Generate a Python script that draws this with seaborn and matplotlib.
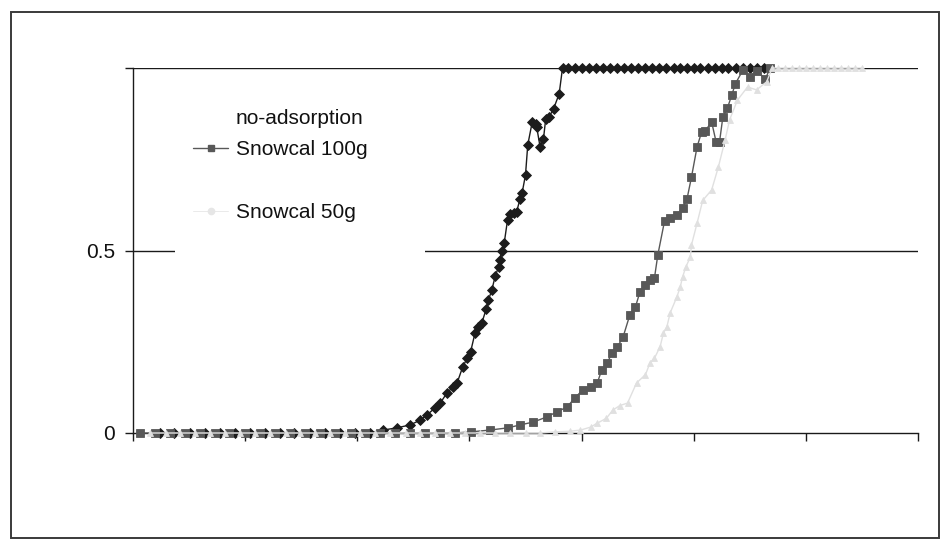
import matplotlib
matplotlib.use("Agg")
import matplotlib.pyplot as plt
from matplotlib.lines import Line2D
from matplotlib.patches import Rectangle
import pandas as pd
import seaborn as sns

# ---- data -----------------------------------------------------------------
series_names = ["no-adsorption", "Snowcal 100g", "Snowcal 50g"]

x_none = [2.4, 3.7, 5.1, 6.4, 7.8, 9.1, 10.4, 11.8, 13.1, 14.4, 15.8, 17.1, 18.5, 19.8, 21.1,
          22.3, 23.5, 24.7, 25.6, 26.2, 26.9, 27.4, 28.0, 28.5, 28.9, 29.4, 29.8, 30.1, 30.5,
          30.8, 31.1, 31.5, 31.7, 32.0, 32.3, 32.6, 32.7, 32.9, 33.1, 33.4, 33.6, 34.0, 34.2,
          34.5, 34.7, 35.0, 35.2, 35.6, 35.9, 36.0, 36.3, 36.6, 36.8, 37.1, 37.5, 38.0, 38.3,
          38.8, 39.4, 40.0, 40.7, 41.3, 41.9, 42.5, 43.2, 43.8, 44.4, 45.0, 45.7, 46.3, 46.9,
          47.5, 48.2, 48.8, 49.4, 50.0, 50.6, 51.3, 51.9, 52.5, 53.1, 53.8, 54.4, 55.0, 55.6, 56.3]
y_none = [0, 0, 0, 0, 0, 0, 0, 0, 0, 0, 0, 0, 0, 0, 0,
          0.008, 0.014, 0.022, 0.035, 0.049, 0.068, 0.082, 0.110, 0.125, 0.137, 0.181, 0.205,
          0.222, 0.274, 0.290, 0.301, 0.340, 0.365, 0.392, 0.430, 0.455, 0.474, 0.500, 0.520,
          0.584, 0.600, 0.603, 0.605, 0.640, 0.658, 0.707, 0.789, 0.852, 0.847, 0.838, 0.784,
          0.805, 0.860, 0.866, 0.888, 0.929, 1.0,
          1, 1, 1, 1, 1, 1, 1, 1, 1, 1, 1, 1, 1, 1, 1, 1, 1, 1, 1, 1, 1, 1, 1, 1, 1, 1, 1, 1, 1]

x_100 = [0.6, 2.0, 3.3, 4.6, 6.0, 7.3, 8.6, 10.0, 11.3, 12.7, 14.0, 15.3, 16.7, 18.0, 19.4,
         20.7, 22.0, 23.4, 24.7, 26.0, 27.4, 28.7,
         30.1, 31.8, 33.4, 34.5, 35.7, 36.9, 37.8, 38.7, 39.4, 40.1, 40.8, 41.4, 41.8, 42.3,
         42.7, 43.2, 43.7, 44.3, 44.8, 45.2, 45.7, 46.1, 46.5, 46.8, 47.4, 47.9, 48.5, 49.0,
         49.4, 49.8, 50.3, 50.7, 51.0, 51.6, 52.0, 52.3, 52.6, 53.0, 53.4, 53.7, 54.4, 55.0,
         55.6, 56.4, 56.8]
y_100 = [0, 0, 0, 0, 0, 0, 0, 0, 0, 0, 0, 0, 0, 0, 0, 0, 0, 0, 0, 0, 0, 0,
         0.003, 0.008, 0.014, 0.022, 0.030, 0.044, 0.058, 0.071, 0.096, 0.118, 0.126, 0.137,
         0.173, 0.192, 0.219, 0.236, 0.263, 0.323, 0.345, 0.386, 0.405, 0.419, 0.425, 0.488,
         0.581, 0.589, 0.597, 0.616, 0.641, 0.701, 0.784, 0.824, 0.827, 0.852, 0.797, 0.797,
         0.866, 0.890, 0.926, 0.956, 0.995, 0.975, 0.992, 0.970, 1.0]

x_50 = [1.5, 2.9, 4.2, 5.5, 6.9, 8.2, 9.5, 10.9, 12.2, 13.6, 14.9, 16.2, 17.6, 18.9, 20.2,
        21.6, 22.9, 24.3, 25.6, 26.9, 28.3, 29.6, 30.9, 32.3, 33.6, 35.0, 36.3,
        37.6, 39.0, 39.9, 40.8, 41.4, 42.2, 42.8, 43.4, 44.1, 44.9, 45.7, 46.1, 46.5, 47.0,
        47.3, 47.6, 47.9, 48.5, 48.8, 49.0, 49.3, 49.7, 49.8, 50.3, 50.8, 51.6, 52.2, 52.8,
        53.2, 53.9, 54.8, 55.6, 56.5, 57.0,
        57.5, 58.1, 58.8, 59.4, 60.0, 60.6, 61.3, 61.9, 62.5, 63.1, 63.8, 64.4, 65.0]
y_50 = [0, 0, 0, 0, 0, 0, 0, 0, 0, 0, 0, 0, 0, 0, 0, 0, 0, 0, 0, 0, 0, 0, 0, 0, 0, 0, 0,
        0.003, 0.005, 0.008, 0.016, 0.027, 0.040, 0.063, 0.075, 0.082, 0.137, 0.160, 0.192,
        0.205, 0.236, 0.274, 0.290, 0.329, 0.373, 0.400, 0.427, 0.455, 0.482, 0.515, 0.575,
        0.637, 0.666, 0.729, 0.803, 0.858, 0.912, 0.948, 0.940, 0.962, 1.0,
        1, 1, 1, 1, 1, 1, 1, 1, 1, 1, 1, 1, 1]

x_ticks = [0, 10, 20, 30, 40, 50, 60, 70]
y_ticks = [0, 0.5, 1]
y_tick_labels = ["0", "0.5", ""]

# ---- styling ----------------------------------------------------------------
sns.set_style("white")
plt.rcParams["font.family"] = ["Liberation Sans", "DejaVu Sans"]

# later series sit on top of earlier ones
styles = {
    "no-adsorption": dict(color="#1c1c1c", marker="D", ms=5.5, lw=1.0, zorder=3),
    "Snowcal 100g": dict(color="#585858", marker="s", ms=5.5, lw=1.0, zorder=4),
    "Snowcal 50g": dict(color="#e0e0e0", marker="^", ms=5.0, lw=1.0, zorder=5),
}

fig = plt.figure(figsize=(9.41, 5.40), dpi=100)
ax = fig.add_axes([133 / 941, 1 - 433 / 540, 785 / 941, 365 / 540])

# outer chart border
fig.patches.append(Rectangle((11 / 941, 2 / 540), 928 / 941, 526 / 540,
                             transform=fig.transFigure, fill=False,
                             edgecolor="#3a3a3a", linewidth=1.4, zorder=0))

# horizontal gridlines
for yv in (0.5, 1.0):
    ax.axhline(yv, color="#1a1a1a", lw=1.0, zorder=1)

frames = []
for name, xs, ys in zip(series_names, [x_none, x_100, x_50], [y_none, y_100, y_50]):
    frames.append(pd.DataFrame({"x": xs, "y": ys, "series": name}))
df = pd.concat(frames, ignore_index=True)

for name in series_names:
    st = styles[name]
    sub = df[df["series"] == name]
    sns.lineplot(data=sub, x="x", y="y", ax=ax, estimator=None, sort=False,
                 color=st["color"], lw=st["lw"], marker=st["marker"],
                 markersize=st["ms"], markeredgewidth=0.6,
                 markeredgecolor=st["color"], zorder=st["zorder"],
                 clip_on=False, legend=False)

ax.set_xlim(0, 70)
ax.set_ylim(0, 1)
ax.set_xticks(x_ticks)
ax.set_xticklabels([])
ax.set_yticks(y_ticks)
ax.set_yticklabels(y_tick_labels)
ax.set_xlabel("")
ax.set_ylabel("")
ax.tick_params(axis="both", which="major", bottom=True, left=True, direction="out",
               length=6, width=1.0, color="#1a1a1a",
               labelsize=15, labelcolor="#111111", pad=7)
for side in ("top", "right"):
    ax.spines[side].set_visible(False)
for side in ("left", "bottom"):
    ax.spines[side].set_color("#1a1a1a")
    ax.spines[side].set_linewidth(1.0)
    ax.spines[side].set_zorder(2)

# legend background panel
ax.add_patch(Rectangle((0.0535, 0.4685), 0.3185, 0.485, transform=ax.transAxes,
                       facecolor="white", edgecolor="none", zorder=1.5))

blank = Line2D([], [], linestyle="none", marker=None)
handles = [
    blank,
    Line2D([], [], color=styles["Snowcal 100g"]["color"], lw=1.0, marker="s", ms=5),
    blank,
    Line2D([], [], color="#e6e6e6", lw=0.6, marker="o", ms=4.5),
]
labels = ["no-adsorption", "Snowcal 100g", " ", "Snowcal 50g"]
leg = ax.legend(handles, labels, loc="upper left", bbox_to_anchor=(0.0764, 0.889),
                frameon=False, fontsize=15, handlelength=1.7, handletextpad=0.35,
                labelspacing=0.6, borderpad=0, borderaxespad=0)
for t in leg.get_texts():
    t.set_color("#111111")
leg.set_zorder(6)

fig.savefig("out.png", dpi=100, facecolor="white")
